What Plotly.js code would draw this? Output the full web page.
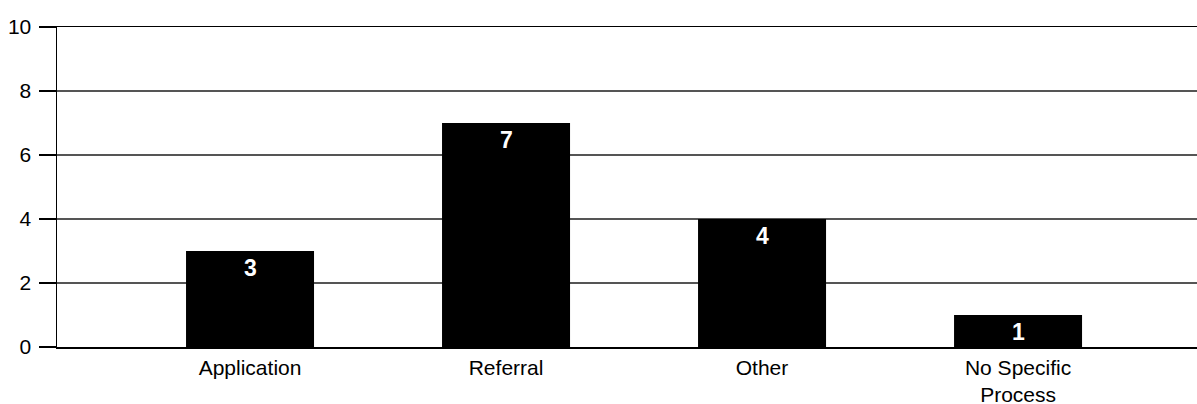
<!DOCTYPE html>
<html>
<head>
<meta charset="utf-8">
<script src="https://cdn.plot.ly/plotly-3.0.1.min.js"></script>
<style>html,body{margin:0;padding:0;background:#fff;}#chart{width:1197px;height:404px;}</style>
</head>
<body>
<div id="chart"></div>
<script>
const categories = ["Application", "Referral", "Other", "No Specific<br>Process"];
const values = [3, 7, 4, 1];
const yTicks = [0, 2, 4, 6, 8, 10];

const positions = categories.map((c, i) => i);

const trace = {
  type: "bar",
  x: positions,
  y: values,
  width: 0.5,
  marker: {color: "#000000", line: {width: 0}},
  hoverinfo: "none"
};

const annotations = values.map((v, i) => ({
  x: positions[i],
  y: v,
  xref: "x",
  yref: "y",
  text: "<b>" + String(v) + "</b>",
  showarrow: false,
  xanchor: "center",
  yanchor: "middle",
  yshift: -17,
  font: {family: "Liberation Sans, Arial, sans-serif", size: 23, color: "#ffffff"}
}));

const layout = {
  width: 1197,
  height: 404,
  margin: {l: 57, r: 0, t: 27, b: 57, pad: 0},
  paper_bgcolor: "#ffffff",
  plot_bgcolor: "#ffffff",
  showlegend: false,
  font: {family: "Liberation Sans, Arial, sans-serif", size: 21, color: "#000000"},
  annotations: annotations,
  xaxis: {
    range: [-0.754, 3.699],
    tickmode: "array",
    tickvals: positions,
    ticktext: categories,
    ticks: "",
    showgrid: false,
    zeroline: false,
    showline: true,
    mirror: true,
    linecolor: "#000000",
    linewidth: 1.5,
    tickfont: {size: 21},
    ticklabelstandoff: 1
  },
  yaxis: {
    range: [0, 10],
    tickmode: "array",
    tickvals: yTicks,
    ticktext: yTicks.map(String),
    ticks: "outside",
    ticklen: 17,
    tickwidth: 1.5,
    tickcolor: "#000000",
    showgrid: true,
    gridcolor: "#555555",
    gridwidth: 1.5,
    zeroline: false,
    showline: true,
    linecolor: "#000000",
    linewidth: 1.5,
    tickfont: {size: 21},
    ticklabelstandoff: 3
  }
};

Plotly.newPlot("chart", [trace], layout, {staticPlot: true, displayModeBar: false});
</script>
</body>
</html>
